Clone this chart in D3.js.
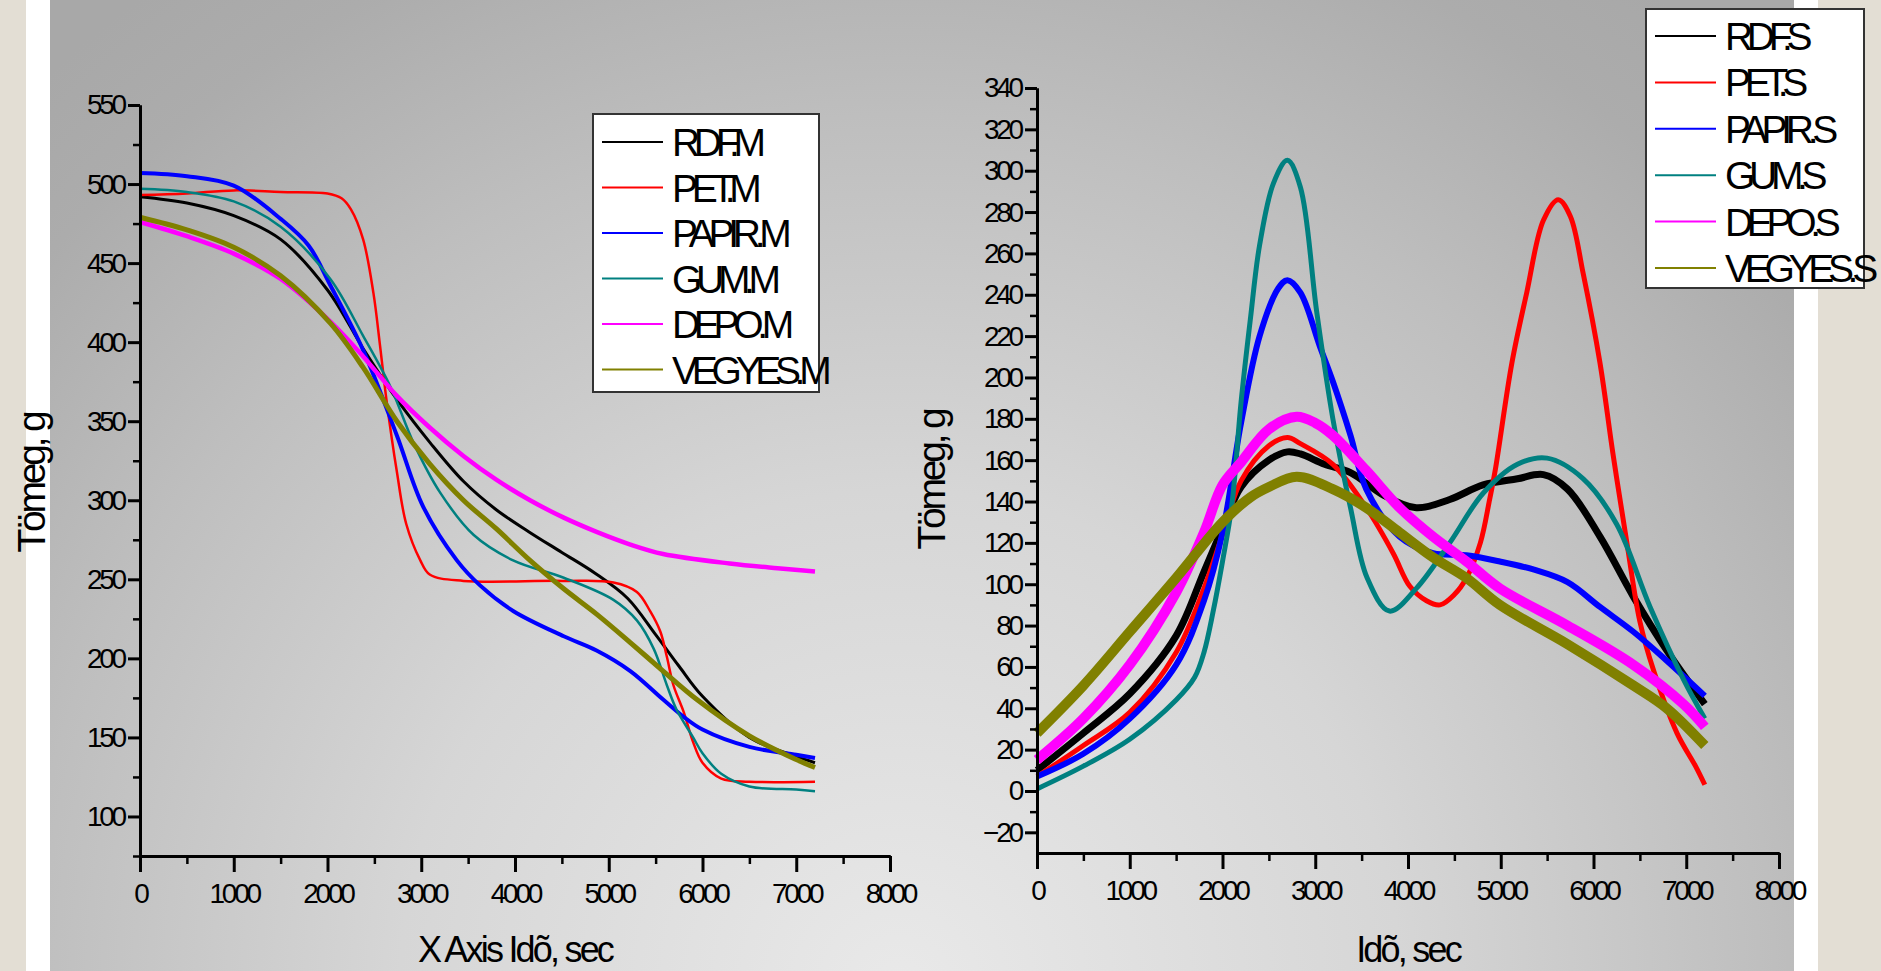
<!DOCTYPE html>
<html>
<head>
<meta charset="utf-8">
<title>Tömeg - idő</title>
<style>
    body { margin: 0; overflow: hidden; }
    svg text { font-family: "Liberation Sans", Arial, sans-serif; fill: #000; }
    .tick text { font-size: 28px; letter-spacing: -3.2px; }
    .axis path, .axis line { stroke: #000; stroke-width: 3px; }
    .minor line { stroke-width: 2.5px; }
</style>
</head>
<body>
<svg id="chart" width="1881" height="971"></svg>
<script src="https://d3js.org/d3.v7.min.js"></script>
<script>
// time (sec), mass (g)
const namesM = ["RDF.M", "PET.M", "PAPIR.M", "GUM.M", "DEPO.M", "VEGYES.M"];
const namesS = ["RDF.S", "PET.S", "PAPIR.S", "GUM.S", "DEPO.S", "VEGYES.S"];
const colors = ["#000000", "#ff0000", "#0000ff", "#008080", "#ff00ff", "#808000"];

const rdfM = [[0,492],[500,488],[1000,480],[1500,465],[2000,433],[2400,394],[2750,363],[3100,336],[3450,312],[3800,294],[4150,280],[4500,267],[4850,254],[5200,238],[5500,215],[5750,195],[6000,176],[6500,150],[7000,138],[7200,134]];
const petM = [[0,493],[500,494],[1000,496],[1500,495],[2000,494],[2150,491],[2250,484],[2380,465],[2490,431],[2560,398],[2630,363],[2740,318],[2840,285],[2990,262],[3090,253],[3450,249],[4500,249],[5050,248],[5300,242],[5440,230],[5550,217],[5620,201],[5690,183],[5800,166],[5900,147],[6000,134],[6200,124],[6500,122],[7200,122]];
const papirM = [[0,507],[500,505],[1000,499],[1500,478],[1800,461],[2030,436],[2380,395],[2740,341],[3020,296],[3380,262],[3630,246],[3980,230],[4520,214],[4870,205],[5230,192],[5580,174],[5800,163],[6000,155],[6500,144],[7000,139],[7200,137]];
const gumM = [[0,497],[500,495],[1000,489],[1500,473],[2030,440],[2380,404],[2670,372],[2920,336],[3200,305],[3560,278],[3980,262],[4520,251],[5050,237],[5300,224],[5480,206],[5620,183],[5720,168],[5900,150],[6000,140],[6200,127],[6500,119],[7000,117],[7200,116]];
const depoM = [[0,476],[500,467],[1000,456],[1500,440],[2030,413],[2380,391],[2740,366],[3090,346],[3450,328],[3800,313],[4160,300],[4520,289],[4870,280],[5230,272],[5580,266],[6290,260],[6800,257],[7200,255]];
const vegyesM = [[0,479],[500,471],[1000,460],[1500,442],[2030,412],[2380,384],[2740,350],[3090,323],[3450,300],[3800,282],[4160,262],[4520,244],[4870,228],[5230,210],[5580,192],[5940,174],[6500,151],[7000,136],[7200,131]];

const rdfS = [[0,10],[500,28],[1000,47],[1500,75],[1800,106],[2000,127],[2200,147],[2500,160],[2700,164],[2840,163],[3100,158],[3380,154],[3740,143],[4090,137],[4450,141],[4810,148],[5180,151],[5460,153],[5720,146],[6070,123],[6430,94],[6790,68],[7200,42]];
const petS = [[0,7],[500,22],[1000,38],[1500,67],[1800,98],[2000,124],[2200,150],[2500,167],[2700,171],[2840,168],[3190,158],[3550,137],[3840,115],[4020,99],[4200,92],[4345,90],[4500,95],[4630,103],[4780,120],[4880,141],[4940,155],[5120,207],[5280,241],[5460,276],[5620,286],[5750,278],[5890,250],[6070,207],[6210,163],[6360,120],[6500,82],[6650,58],[6900,28],[7100,12],[7200,3]];
const papirS = [[0,7],[500,18],[1000,35],[1500,61],[1800,92],[2000,125],[2200,178],[2400,220],[2600,243],[2700,247],[2840,241],[3050,215],[3190,198],[3380,172],[3550,146],[3910,123],[4270,115],[4630,114],[4990,111],[5360,107],[5720,101],[6070,89],[6430,77],[6790,63],[7200,46]];
const gumS = [[0,1],[500,12],[1000,25],[1500,44],[1700,55],[1800,67],[1900,87],[2000,111],[2100,138],[2200,188],[2300,228],[2400,264],[2550,294],[2700,305],[2840,292],[3015,232],[3190,180],[3380,137],[3560,103],[3800,87],[4090,98],[4450,120],[4810,144],[5180,158],[5500,161],[5890,151],[6250,129],[6610,89],[6970,54],[7200,35]];
const depoS = [[0,15],[500,35],[1000,61],[1500,96],[1800,125],[2000,148],[2200,159],[2500,175],[2800,181],[3000,178],[3190,172],[3550,155],[3910,137],[4270,123],[4630,111],[4990,98],[5720,80],[6430,61],[6970,42],[7200,31]];
const vegyesS = [[0,28],[500,51],[1000,77],[1500,103],[2000,130],[2300,142],[2500,147],[2800,152],[3190,146],[3550,137],[3910,125],[4270,113],[4630,103],[4990,90],[5720,71],[6430,51],[6790,40],[7200,22]];

const xTicks = d3.range(0, 8001, 1000);
const yTicksM = d3.range(100, 551, 50);
const yTicksS = d3.range(-20, 341, 20);

// band widths imitate the noisy traces
const widthsM = [3, 2.5, 4, 2.5, 4.5, 5];
const widthsS = [7, 5, 6, 5, 10, 10];

const svg = d3.select("#chart");

// page background: beige edge, white strip, gray gradient
const defs = svg.append("defs");
const grad = defs.append("radialGradient")
    .attr("id", "bg")
    .attr("gradientUnits", "userSpaceOnUse")
    .attr("cx", 900).attr("cy", 990).attr("r", 1250);
[[0, "#e9e9e9"], [0.4, "#d6d6d6"], [0.7, "#bebebe"], [0.9, "#acacac"], [1, "#a8a8a8"]]
    .forEach(s => grad.append("stop").attr("offset", s[0]).attr("stop-color", s[1]));

svg.append("rect").attr("width", 1881).attr("height", 971).attr("fill", "#e3ded4");
svg.append("rect").attr("x", 26).attr("width", 1792).attr("height", 971).attr("fill", "#ffffff");
svg.append("rect").attr("x", 50).attr("width", 1744).attr("height", 971).attr("fill", "url(#bg)");

function drawPanel(opt) {
    const x = d3.scaleLinear().domain([0, 8000]).range(opt.xRange);
    const y = d3.scaleLinear().domain(opt.yDomain).range(opt.yRange);
    const g = svg.append("g");

    const line = d3.line()
        .x(d => x(d[0]))
        .y(d => y(d[1]))
        .curve(d3.curveCatmullRom.alpha(0.5));

    opt.series.forEach((s, i) => {
        g.append("path")
            .datum(s)
            .attr("fill", "none")
            .attr("stroke", colors[i])
            .attr("stroke-width", opt.widths[i])
            .attr("stroke-linejoin", "round")
            .attr("d", line);
    });

    // minor ticks
    g.append("g").attr("class", "axis minor")
        .attr("transform", `translate(0,${opt.yRange[0]})`)
        .call(d3.axisBottom(x).tickValues(d3.range(500, 8000, 1000)).tickSize(8).tickSizeOuter(0).tickFormat(""));
    g.append("g").attr("class", "axis minor")
        .attr("transform", `translate(${opt.xRange[0]},0)`)
        .call(d3.axisLeft(y).tickValues(opt.yMinor).tickSize(7).tickSizeOuter(0).tickFormat(""));

    g.append("g").attr("class", "axis")
        .attr("transform", `translate(0,${opt.yRange[0]})`)
        .call(d3.axisBottom(x).tickValues(xTicks).tickFormat(d3.format("d"))
            .tickSize(16).tickSizeOuter(0).tickPadding(11));
    g.append("g").attr("class", "axis")
        .attr("transform", `translate(${opt.xRange[0]},0)`)
        .call(d3.axisLeft(y).tickValues(opt.yTicks).tickFormat(d3.format("d"))
            .tickSize(12).tickSizeOuter(0).tickPadding(4));

    // axis titles
    g.append("text")
        .attr("transform", `translate(${opt.yTitlePos[0]},${opt.yTitlePos[1]}) rotate(-90)`)
        .attr("text-anchor", "middle")
        .style("font-size", "39px")
        .style("letter-spacing", "-3.2px")
        .text("Tömeg, g");
    g.append("text")
        .attr("x", (opt.xRange[0] + opt.xRange[1]) / 2)
        .attr("y", 962)
        .attr("text-anchor", "middle")
        .style("font-size", "36px")
        .style("letter-spacing", "-2.8px")
        .text(opt.xTitle);

    // legend
    const lg = g.append("g").attr("transform", `translate(${opt.legend.x},${opt.legend.y})`);
    lg.append("rect")
        .attr("width", opt.legend.w).attr("height", opt.legend.h)
        .attr("fill", "#ffffff").attr("stroke", "#333").attr("stroke-width", 2);
    opt.names.forEach((n, i) => {
        const ry = opt.legend.top + i * opt.legend.step;
        lg.append("line")
            .attr("x1", 9).attr("x2", 70).attr("y1", ry).attr("y2", ry)
            .attr("stroke", colors[i]).attr("stroke-width", 2);
        lg.append("text")
            .attr("x", 79).attr("y", ry + 14)
            .style("font-size", "39px")
            .style("letter-spacing", "-6.3px")
            .text(n);
    });
}

drawPanel({
    xRange: [140, 890],
    yDomain: [75, 550],
    yRange: [856, 105],
    yTicks: yTicksM,
    yMinor: d3.range(75, 550, 50),
    series: [rdfM, petM, papirM, gumM, depoM, vegyesM],
    widths: widthsM,
    names: namesM,
    yTitlePos: [45, 483],
    xTitle: "X Axis Idõ, sec",
    legend: { x: 593, y: 114, w: 226, h: 278, top: 28, step: 45.5 }
});

drawPanel({
    xRange: [1037, 1779],
    yDomain: [-30, 340],
    yRange: [853, 88],
    yTicks: yTicksS,
    yMinor: d3.range(-10, 340, 20),
    series: [rdfS, petS, papirS, gumS, depoS, vegyesS],
    widths: widthsS,
    names: namesS,
    yTitlePos: [945, 480],
    xTitle: "Idõ, sec",
    legend: { x: 1646, y: 9, w: 218, h: 279, top: 27, step: 46.4 }
});
</script>
</body>
</html>
